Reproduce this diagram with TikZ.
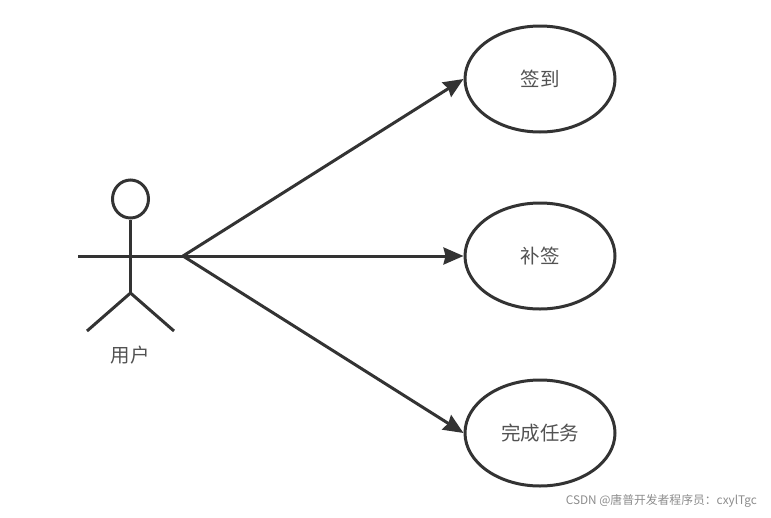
\documentclass[tikz,border=0pt]{standalone}
\usepackage{fontspec}
\setmainfont{Liberation Sans}
\newfontfamily\cjk{Noto Sans CJK SC}
\usetikzlibrary{arrows.meta,shapes.geometric}
\definecolor{ink}{HTML}{333333}
\tikzset{
  x=1pt,y=-1pt,
  usecase/.style={ellipse,draw=ink,line width=3pt,minimum width=150pt,minimum height=106pt,inner sep=0pt,font=\cjk\fontsize{19.5}{22}\selectfont,text=ink!85},
  stick/.style={draw=ink,line width=3pt},
  link/.style={draw=ink,line width=3pt,-{Stealth[length=20pt,width=17pt,inset=2pt]}},
  caption/.style={font=\cjk\fontsize{19.5}{22}\selectfont,text=ink!85},
  mark text/.style={font=\cjk\fontsize{11.8}{13}\selectfont,text=black!45,inner sep=0pt}
}
\begin{document}
\begin{tikzpicture}
\useasboundingbox (0,0) rectangle (771,517);
\node[usecase] (a) at (540,79) {签到};
\node[usecase] (b) at (540,256) {补签};
\node[usecase] (c) at (540,433) {完成任务};
\node[ellipse,draw=ink,line width=3pt,minimum width=36pt,minimum height=38pt,inner sep=0pt] (head) at (130.5,199) {};
\coordinate (hip) at (130.5,293);
\coordinate (lhand) at (78,256);
\coordinate (rhand) at (183,256);
\coordinate (lfoot) at (87,331);
\coordinate (rfoot) at (174,331);
\draw[stick] (head.south) -- (hip);
\draw[stick] (lhand) -- (rhand);
\draw[stick] (lfoot) -- (hip) -- (rfoot);
\node[caption] (actor) at (130,355) {用户};
\draw[link] (rhand) -- (a.west);
\draw[link] (rhand) -- (b.west);
\draw[link] (rhand) -- (c.west);
\node[mark text,anchor=east] (wm) at (757,501) {CSDN @唐普开发者程序员：cxylTgc};
\end{tikzpicture}
\end{document}
